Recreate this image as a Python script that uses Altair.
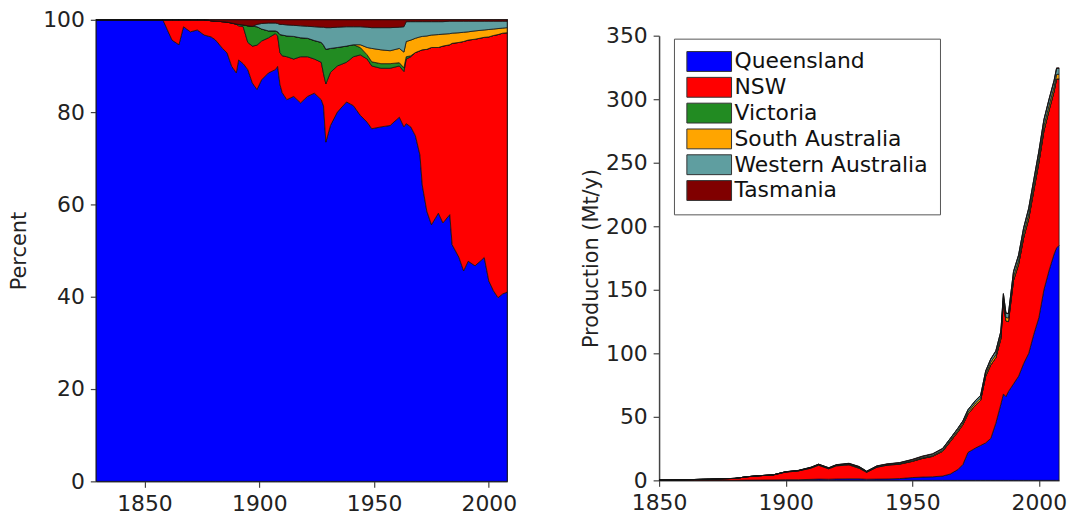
import altair as alt
import pandas as pd

# ---------------- Share of national output (percent, cumulative edges) ----------------
share_years = [1829, 1858, 1860, 1862, 1865, 1867, 1870, 1873, 1876, 1879,
               1881, 1884, 1886, 1888, 1890, 1891, 1893, 1895, 1897, 1899,
               1901, 1904, 1907, 1908, 1909, 1910, 1912, 1915, 1918, 1921,
               1924, 1927, 1928, 1929, 1931, 1934, 1938, 1941, 1944, 1947,
               1949, 1953, 1957, 1961, 1963, 1964, 1966, 1968, 1970, 1971,
               1973, 1975, 1978, 1980, 1983, 1984, 1987, 1989, 1991, 1994,
               1998, 2000, 2002, 2004, 2006, 2008]

# top edge of each band, bottom band first
nsw_top = [100, 100, 97.8, 95.6, 94.6, 98.5, 97.4, 97.8, 96.7, 96.3,
           95.6, 93.8, 92.8, 89.9, 88.5, 91.3, 90.5, 89.2, 86.3, 84.9,
           87.0, 88.5, 89.2, 89.9, 86.0, 84.2, 82.7, 83.4, 82.0, 83.4,
           84.1, 82.7, 81.3, 73.5, 77.1, 80.0, 82.2, 81.4, 79.3, 77.8,
           76.4, 76.8, 77.1, 78.9, 76.8, 77.5, 76.8, 74.9, 70.7, 64.2,
           58.5, 55.6, 58.1, 56.0, 57.8, 51.3, 48.5, 45.6, 47.7, 46.7,
           48.5, 43.4, 41.3, 39.8, 40.6, 41.0]
qld_top = [100, 100, 100, 100, 100, 100, 100, 100, 100, 99.8,
           99.7, 99.6, 99.5, 99.3, 99.0, 98.7, 98.5, 95.1, 94.3, 94.5,
           95.4, 96.1, 97.0, 96.5, 92.9, 92.2, 92.0, 91.5, 92.0, 92.0,
           91.5, 90.8, 88.3, 86.1, 88.6, 90.0, 90.8, 92.0, 92.4, 91.5,
           90.0, 89.5, 89.5, 90.0, 88.8, 91.5, 92.0, 92.9, 93.3, 93.5,
           93.6, 94.0, 94.0, 94.3, 94.6, 94.9, 95.1, 95.3, 95.6, 95.8,
           96.2, 96.3, 96.6, 96.8, 97.1, 97.2]
vic_top = [100, 100, 100, 100, 100, 100, 100, 100, 100, 99.8,
           99.7, 99.6, 99.5, 99.3, 99.1, 99.0, 98.9, 98.7, 98.6, 98.5,
           98.0, 97.6, 97.6, 97.4, 96.8, 96.7, 96.5, 96.4, 96.1, 96.0,
           95.5, 95.1, 94.5, 93.6, 93.8, 94.0, 94.3, 94.6, 94.0, 92.4,
           90.9, 90.5, 90.5, 90.7, 89.6, 92.0, 92.2, 92.9, 93.3, 93.5,
           93.6, 94.0, 94.0, 94.3, 94.6, 94.9, 95.1, 95.3, 95.6, 95.8,
           96.2, 96.3, 96.6, 96.8, 97.1, 97.2]
sa_top = [100, 100, 100, 100, 100, 100, 100, 100, 100, 99.8,
          99.7, 99.6, 99.5, 99.3, 99.1, 99.0, 98.9, 98.7, 98.6, 98.5,
          98.0, 97.6, 97.6, 97.4, 96.8, 96.7, 96.5, 96.4, 96.1, 96.0,
          95.5, 95.1, 94.5, 93.6, 93.8, 94.0, 94.3, 94.6, 94.6, 94.0,
          93.8, 93.5, 93.3, 93.8, 93.0, 95.3, 95.6, 96.0, 96.3, 96.4,
          96.5, 96.7, 96.8, 96.9, 97.0, 97.1, 97.2, 97.3, 97.4, 97.6,
          97.8, 97.9, 98.0, 98.1, 98.2, 98.3]
wa_top = [100, 100, 100, 100, 100, 100, 100, 100, 100, 99.8,
          99.7, 99.6, 99.5, 99.3, 99.1, 99.0, 98.9, 98.7, 98.6, 99.0,
          99.2, 99.3, 99.3, 99.2, 99.0, 99.0, 98.9, 98.8, 98.7, 98.6,
          98.5, 98.4, 98.4, 98.3, 98.3, 98.4, 98.5, 98.5, 98.5, 98.4,
          98.3, 98.3, 98.3, 98.4, 98.5, 99.6, 99.6, 99.6, 99.6, 99.6,
          99.6, 99.6, 99.6, 99.6, 99.7, 99.7, 99.7, 99.7, 99.7, 99.7,
          99.7, 99.7, 99.7, 99.7, 99.7, 99.7]
tas_top = [100] * len(share_years)

share_order = ["NSW", "Queensland", "Victoria", "South Australia",
               "Western Australia", "Tasmania"]
share_tops = [nsw_top, qld_top, vic_top, sa_top, wa_top, tas_top]

# ---------------- Production by state (Mt/y) ----------------
prod_years = [1850, 1855, 1860, 1865, 1870, 1875, 1880, 1885, 1890, 1895,
              1900, 1905, 1910, 1913, 1917, 1920, 1925, 1929, 1932, 1936,
              1940, 1945, 1950, 1954, 1958, 1962, 1965, 1968, 1970, 1972,
              1975, 1977, 1979, 1981, 1983, 1985, 1986, 1987, 1988, 1990,
              1992, 1994, 1996, 1998, 2000, 2002, 2004, 2006, 2007, 2008]
qld_prod = [0, 0, 0, 0.02, 0.03, 0.05, 0.06, 0.2, 0.3, 0.35,
            0.5, 0.5, 0.8, 1.0, 0.9, 1.1, 1.2, 1.2, 0.9, 1.0,
            1.1, 1.4, 2.2, 2.6, 2.8, 3.4, 5.0, 8.5, 12.5, 22.0,
            25.5, 27.5, 29.5, 33.0, 45.0, 60.0, 68.0, 66.0, 70.0, 76.0,
            82.0, 92.0, 100.0, 115.0, 128.0, 150.0, 165.0, 178.0, 183.0, 185.0]
nsw_prod = [0.2, 0.3, 0.5, 0.7, 0.9, 1.2, 1.5, 2.7, 3.4, 3.8,
            6.0, 6.9, 8.8, 10.9, 8.2, 10.3, 11.0, 8.3, 5.4, 9.3,
            10.8, 11.3, 12.7, 14.6, 16.0, 19.4, 25.4, 29.6, 31.3, 30.3,
            33.8, 35.5, 52.5, 57.8, 51.6, 51.5, 73.0, 59.5, 55.0, 81.5,
            88.0, 99.0, 106.0, 113.0, 122.0, 125.0, 126.0, 128.0, 133.0, 131.0]
vic_prod = [0, 0, 0, 0, 0, 0, 0, 0, 0.02, 0.15,
            0.2, 0.25, 0.45, 0.5, 0.45, 0.5, 0.7, 0.8, 0.5, 0.45,
            0.36, 0.25, 0.13, 0.15, 0.2, 0.2, 0.1, 0, 0, 0,
            0, 0, 0, 0, 0, 0, 0, 0, 0, 0,
            0, 0, 0, 0, 0, 0, 0, 0, 0, 0]
sa_prod = [0, 0, 0, 0, 0, 0, 0, 0, 0, 0,
           0, 0, 0, 0, 0, 0, 0, 0, 0, 0,
           0, 0.28, 0.5, 0.57, 0.6, 0.75, 1.1, 1.3, 1.4, 1.5,
           1.7, 1.8, 1.9, 2.2, 2.4, 2.6, 2.7, 2.7, 2.8, 3.0,
           3.2, 3.4, 3.6, 3.8, 4.0, 3.9, 3.8, 3.7, 3.6, 3.6]
wa_prod = [0, 0, 0, 0, 0, 0, 0, 0, 0, 0,
           0.08, 0.14, 0.24, 0.3, 0.32, 0.33, 0.4, 0.5, 0.34, 0.5,
           0.52, 0.6, 0.74, 0.9, 1.05, 1.15, 1.3, 1.5, 1.55, 1.7,
           1.8, 2.0, 2.1, 2.4, 2.7, 3.0, 3.1, 3.3, 3.4, 3.8,
           4.0, 4.2, 4.4, 4.6, 4.7, 4.8, 4.8, 4.7, 4.6, 4.6]
tas_prod = [0, 0, 0, 0, 0, 0, 0.01, 0.02, 0.03, 0.04,
            0.05, 0.06, 0.08, 0.1, 0.12, 0.15, 0.17, 0.18, 0.12, 0.18,
            0.2, 0.22, 0.28, 0.3, 0.33, 0.35, 0.12, 0.15, 0.15, 0.17,
            0.2, 0.2, 0.22, 0.25, 0.3, 0.3, 0.3, 0.3, 0.3, 0.35,
            0.4, 0.4, 0.45, 0.5, 0.5, 0.5, 0.5, 0.5, 0.5, 0.5]

states = ["Queensland", "NSW", "Victoria", "South Australia",
          "Western Australia", "Tasmania"]
prod_series = [qld_prod, nsw_prod, vic_prod, sa_prod, wa_prod, tas_prod]

palette = ["#0000ff", "#ff0000", "#228b22", "#ffa500", "#5f9ea0", "#800000"]

FONT = "DejaVu Sans"

# ---------------- tables ----------------
share_rows = []
for k, name in enumerate(share_order):
    upper = share_tops[k]
    lower = share_tops[k - 1] if k > 0 else [0] * len(share_years)
    for i, yr in enumerate(share_years):
        share_rows.append({"year": yr, "state": name, "rank": k,
                           "lower": lower[i], "upper": upper[i]})
share_df = pd.DataFrame(share_rows)

prod_rows = []
for k, name in enumerate(states):
    for yr, v in zip(prod_years, prod_series[k]):
        prod_rows.append({"year": yr, "state": name, "rank": k, "value": v})
prod_df = pd.DataFrame(prod_rows)

area_style = dict(interpolate="linear", stroke="#111111", strokeWidth=1,
                  strokeOpacity=0.75, strokeJoin="round")

# ---------------- left panel: percent shares ----------------
left = alt.Chart(share_df).mark_area(**area_style).encode(
    x=alt.X("year:Q",
            scale=alt.Scale(domain=[1829, 2008], nice=False, zero=False),
            axis=alt.Axis(values=[1850, 1900, 1950, 2000], format="d", title=None)),
    y=alt.Y("upper:Q",
            scale=alt.Scale(domain=[0, 100], nice=False),
            axis=alt.Axis(values=[0, 20, 40, 60, 80, 100], title="Percent",
                          titlePadding=13)),
    y2="lower:Q",
    color=alt.Color("state:N",
                    scale=alt.Scale(domain=share_order, range=palette),
                    legend=None),
    order=alt.Order("rank:Q"),
).properties(width=414, height=465,
             view=alt.ViewBackground(stroke="#333333", strokeWidth=1.5))

# ---------------- right panel: production ----------------
right = alt.Chart(prod_df).mark_area(**area_style).encode(
    x=alt.X("year:Q",
            scale=alt.Scale(domain=[1850, 2008], nice=False, zero=False),
            axis=alt.Axis(values=[1850, 1900, 1950, 2000], format="d", title=None)),
    y=alt.Y("value:Q", stack="zero",
            scale=alt.Scale(domain=[0, 350], nice=False),
            axis=alt.Axis(values=list(range(0, 351, 50)), title="Production (Mt/y)",
                          titlePadding=4)),
    color=alt.Color("state:N",
                    scale=alt.Scale(domain=states, range=palette),
                    legend=alt.Legend(
                        title=None, orient="none", legendX=15, legendY=19,
                        symbolType="M-1,-1H3.5V1H-1Z", symbolSize=400,
                        symbolStrokeColor="#333333", symbolStrokeWidth=1,
                        symbolOpacity=1,
                        labelFont=FONT, labelFontSize=22, labelColor="#111111",
                        labelOffset=27, labelLimit=400, rowPadding=2,
                        strokeColor="#555555", fillColor="white", padding=12)),
    order=alt.Order("rank:Q", sort="ascending"),
).properties(width=403, height=448, view=alt.ViewBackground(strokeOpacity=0))

# blank strip that sits above the right panel and lowers it a little
strip = alt.Chart(pd.DataFrame({"k": [0]})).mark_point(size=1, opacity=0).encode(
    x=alt.value(0), y=alt.value(0)
).properties(width=403, height=2, view=alt.ViewBackground(strokeOpacity=0))

right_col = alt.vconcat(strip, right, spacing=14, bounds="flush")

chart = alt.hconcat(left, right_col, spacing=153, bounds="flush").resolve_scale(
    color="independent", x="independent", y="independent"
).properties(
    padding={"left": 8, "top": 6, "right": 5, "bottom": 5},
    background="white",
).configure_axis(
    labelFont=FONT, labelFontSize=22, labelColor="#222222",
    titleFont=FONT, titleFontSize=21, titleFontWeight="normal", titleColor="#222222",
    domainColor="#444444", domainWidth=1.5,
    tickColor="#444444", tickWidth=1.2, tickSize=6,
    labelPadding=6, grid=False, labelFlush=False,
)

chart.save("out.html", embed_options={"renderer": "svg", "actions": False})
